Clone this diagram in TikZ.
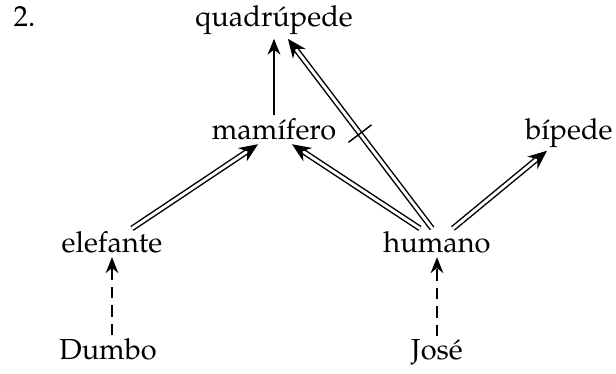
\documentclass[tikz,border=0pt]{standalone}
\usepackage[T1]{fontenc}
\usepackage{mathpazo}
\usetikzlibrary{arrows.meta}
\tikzset{
  word/.style={anchor=base, inner sep=1pt},
  isa/.style={double, double distance=1pt, -{Stealth[length=6.5pt,width=5.5pt]}},
  up/.style={-{Stealth[length=5.5pt,width=4.4pt]}},
  inst/.style={up, dash pattern=on 4pt off 2.4pt},
  cut/.style={sloped, inner sep=0pt, minimum width=0pt, minimum height=9.5pt}
}
\begin{document}
\begin{tikzpicture}[x=0.345pt,y=0.345pt,line width=0.5pt]
  \useasboundingbox (0,0) rectangle (616,374);
  \node[word, anchor=base west] (num) at (10,347) {2.};
  \node[word] (quad) at (274,347) {quadrúpede};
  \node[word] (mami) at (274,234) {mamífero};
  \node[word] (bip) at (569,235) {bípede};
  \node[word] (ele) at (112,121) {elefante};
  \node[word] (hum) at (437,121) {humano};
  \node[word] (dumbo) at (108,14) {Dumbo};
  \node[word] (jose) at (437,14) {José};

  \draw[up] (mami) -- (quad);
  \draw[isa] ([xshift=6.9pt]ele.north) -- ([xshift=-5.5pt]mami.south);
  \draw[isa] ([xshift=-5.9pt]hum.north) -- ([xshift=6.2pt]mami.south);
  \draw[isa] ([xshift=-1.7pt]hum.north) -- node[cut] (no) {} ([xshift=4.8pt]quad.south);
  \draw (no.north) -- (no.south);
  \draw[isa] ([xshift=5.5pt]hum.north) -- ([xshift=-7.6pt]bip.south);
  \draw[inst] (dumbo.north -| ele.south) -- (ele.south);
  \draw[inst] (jose) -- (hum);
\end{tikzpicture}
\end{document}
